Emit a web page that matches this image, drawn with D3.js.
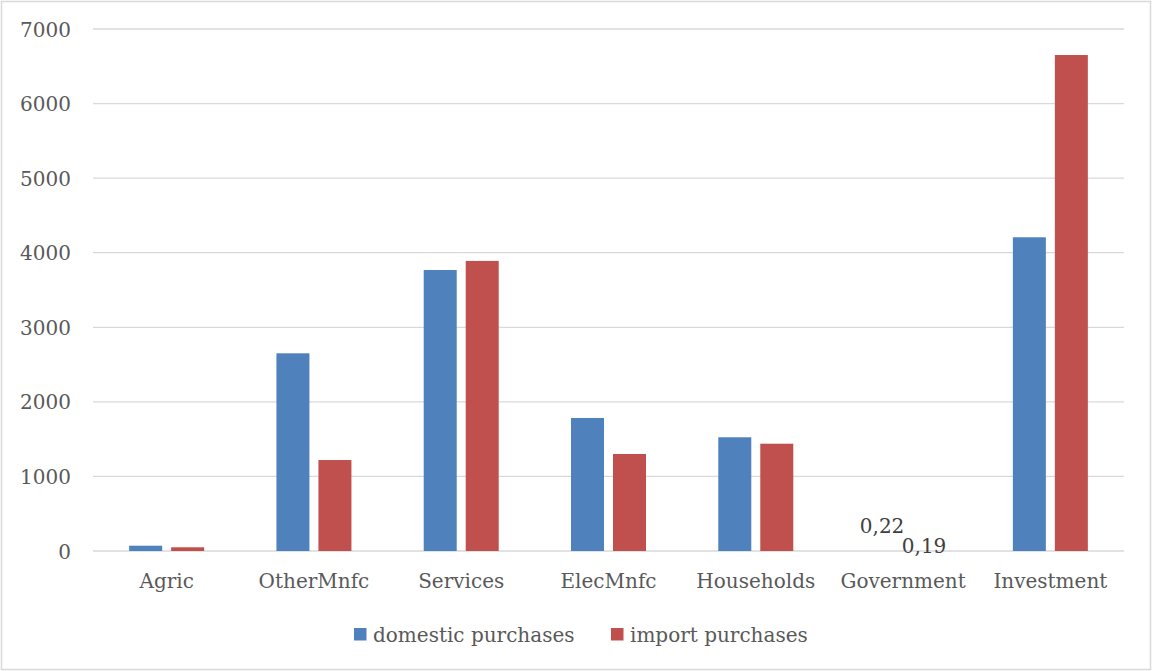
<!DOCTYPE html>
<html><head><meta charset="utf-8">
<script src="https://cdn.jsdelivr.net/npm/d3@7"></script>
<style>
html,body{margin:0;padding:0;background:#fff;}
svg{display:block;}
text{font-family:"DejaVu Serif",serif;}
</style></head>
<body>
<svg id="chart" width="1152" height="671"></svg>
<script>
const categories = ["Agric","OtherMnfc","Services","ElecMnfc","Households","Government","Investment"];
const domestic = [71, 2651, 3768, 1784, 1525, 0.22, 4207];
const imports = [50, 1220, 3890, 1301, 1439, 0.19, 6651];
const seriesNames = ["domestic purchases","import purchases"];
const seriesColors = ["#4F81BD","#C0504D"];
const yTicks = [0,1000,2000,3000,4000,5000,6000,7000];
const labeledCategory = "Government";

(function(){
const svg = d3.select("#chart");
svg.append("rect").attr("x",1.5).attr("y",1.5).attr("width",1149).attr("height",668)
  .attr("fill","#fff").attr("stroke","#d9d9d9").attr("stroke-width",1.5);

const pL=93, pR=1124, pT=29, pB=551;
const x = d3.scaleBand().domain(categories).range([pL,pR]).paddingInner(0).paddingOuter(0);
const y = d3.scaleLinear().domain([0,7000]).range([pB,pT]);
const barW = 33, gap = 9;
const groupW = barW*2+gap;

// gridlines
svg.append("g").selectAll("line").data(yTicks).join("line")
  .attr("x1",pL).attr("x2",pR)
  .attr("y1",d=>y(d)).attr("y2",d=>y(d))
  .attr("stroke","#d9d9d9").attr("stroke-width",1.3);

// y axis labels
const yAxis = d3.axisLeft(y).tickValues(yTicks).tickSize(0).tickPadding(0).tickFormat(d3.format("d"));
const ya = svg.append("g").attr("transform",`translate(71,0)`).call(yAxis);
ya.select(".domain").remove();
ya.selectAll("text").attr("fill","#595959").attr("font-size",20).attr("font-family","DejaVu Serif").attr("dy","0.35em");

// x axis labels
const xAxis = d3.axisBottom(x).tickSize(0).tickPadding(0);
const xa = svg.append("g").attr("transform",`translate(0,${pB})`).call(xAxis);
xa.select(".domain").remove();
xa.selectAll("text").attr("fill","#595959").attr("font-size",20).attr("font-family","DejaVu Serif").attr("dy",null).attr("y",37);

const series = [domestic, imports];
series.forEach((vals,si)=>{
  const g = svg.append("g");
  g.selectAll("rect").data(categories).join("rect")
    .attr("x",c=>x(c)+(x.bandwidth()-groupW)/2+si*(barW+gap))
    .attr("width",barW)
    .attr("y",(c,i)=>y(vals[i]))
    .attr("height",(c,i)=>pB-y(vals[i]))
    .attr("fill",seriesColors[si]);
  const i = categories.indexOf(labeledCategory);
  const cx = x(labeledCategory)+(x.bandwidth()-groupW)/2+si*(barW+gap)+barW/2;
  g.append("text").attr("x",cx).attr("y",y(vals[i])+(si===0?-18:2))
    .attr("text-anchor","middle").attr("fill","#404040").attr("font-size",20)
    .text(d3.format(".2f")(vals[i]).replace(".",","));
});

// legend
const legX = [354, 611];
seriesNames.forEach((n,i)=>{
  svg.append("rect").attr("x",legX[i]).attr("y",628).attr("width",12.5).attr("height",12.5).attr("fill",seriesColors[i]);
  svg.append("text").attr("x",legX[i]+19).attr("y",642).attr("fill","#595959").attr("font-size",20).text(n);
});
})();
</script>
</body></html>
